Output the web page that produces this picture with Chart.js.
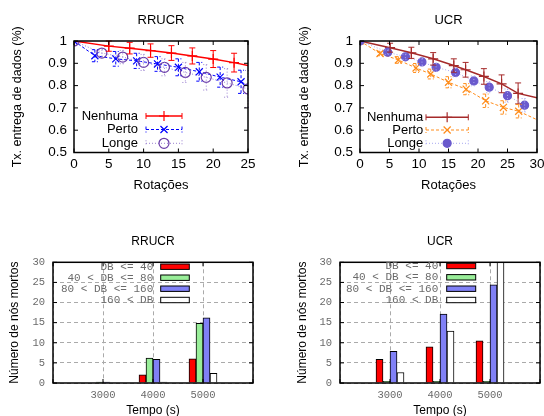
<!DOCTYPE html>
<html>
<head>
<meta charset="utf-8">
<script src="https://cdn.jsdelivr.net/npm/chart.js@4/dist/chart.umd.min.js"></script>
<style>
  html, body { margin: 0; padding: 0; background: #fff; }
  #page { position: relative; width: 544px; height: 416px; overflow: hidden; }
  #page canvas { position: absolute; }
</style>
</head>
<body>
<div id="page">
  <canvas id="rrLine" width="272" height="208" style="left:0;top:0"></canvas>
  <canvas id="ucrLine" width="290" height="208" style="left:272px;top:0"></canvas>
  <canvas id="rrBar" width="272" height="220" style="left:0;top:208px"></canvas>
  <canvas id="ucrBar" width="290" height="220" style="left:272px;top:208px"></canvas>
</div>
<script>
// ---- data: taxa de entrega x rotacoes ----
var rrNenhumaX   = [0, 5, 8, 11, 14, 17, 20, 23, 25];
var rrNenhumaY   = [1, 0.977, 0.968, 0.957, 0.946, 0.933, 0.919, 0.903, 0.89];
var rrNenhumaErr = [0, 0.023, 0.026, 0.03, 0.033, 0.036, 0.038, 0.042, null];
var rrPertoX     = [0, 3, 6, 9, 12, 15, 18, 21, 24, 25];
var rrPertoY     = [1, 0.934, 0.92, 0.911, 0.897, 0.882, 0.862, 0.838, 0.817, 0.80];
var rrPertoErr   = [0, 0.027, 0.033, 0.034, 0.033, 0.038, 0.042, 0.045, 0.052, null];
var rrLongeX     = [0, 4, 7, 10, 13, 16, 19, 22, 25];
var rrLongeY     = [1, 0.946, 0.928, 0.904, 0.882, 0.859, 0.837, 0.812, 0.785];
var rrLongeErr   = [0, 0.015, 0.03, 0.036, 0.038, 0.045, 0.057, 0.064, 0.083];

var ucrNenhumaX   = [0, 5.1, 8.7, 12.4, 15.9, 17.9, 21, 24, 26.8, 30];
var ucrNenhumaY   = [1, 0.97, 0.947, 0.92, 0.89, 0.871, 0.841, 0.808, 0.765, 0.745];
var ucrNenhumaErr = [0, 0.02, 0.025, 0.028, 0.03, 0.033, 0.035, 0.04, 0.047, null];
var ucrPertoX     = [0, 3.4, 6.5, 9.5, 12, 15, 18, 21.3, 24.3, 26.9, 30];
var ucrPertoY     = [1, 0.944, 0.915, 0.879, 0.852, 0.815, 0.784, 0.732, 0.702, 0.685, 0.647];
var ucrPertoErr   = [0, 0.01, 0.015, 0.02, 0.022, 0.025, 0.025, 0.03, 0.03, 0.03, null];
var ucrLongeX     = [0, 4.7, 7.7, 10.5, 12.9, 16.2, 19.3, 21.9, 25, 27.9];
var ucrLongeY     = [1, 0.95, 0.929, 0.906, 0.882, 0.859, 0.821, 0.793, 0.755, 0.712];
var ucrLongeErr   = [0, 0.01, 0.012, 0.015, 0.018, 0.02, 0.022, 0.025, 0.03, 0.03];

// ---- data: nos mortos x tempo ----
var tempos      = [3000, 4000, 5000];
var faixas      = ['DB <= 40', '40 < DB <= 80', '80 < DB <= 160', '160 < DB'];
var rrMortos    = [[0, 2, 6], [0.2, 6.2, 14.8], [0.2, 5.9, 16.2], [0, 0.2, 2.4]];
var ucrMortos   = [[5.9, 9, 10.5], [0.4, 0.4, 0.4], [7.9, 17.1, 24.4], [2.6, 12.9, 30]];

var SANS = 'Liberation Sans, Arial, sans-serif';
var MONO = 'Liberation Mono, Courier New, monospace';

function pts(xs, ys) {
  return xs.map(function (x, i) { return { x: x, y: ys[i] }; });
}

function serie(label, xs, ys, errs, st) {
  return {
    label: label,
    data: pts(xs, ys),
    errors: errs,
    errColor: st.errColor || st.line,
    borderColor: st.line,
    borderWidth: st.width || 1,
    borderDash: st.dash || [],
    pointStyle: st.point,
    pointRadius: function (c) { return errs[c.dataIndex] == null ? 0 : st.radius; },
    pointBorderColor: st.mark || st.line,
    pointBackgroundColor: st.fill || 'rgba(0,0,0,0)',
    pointBorderWidth: 1.2,
    tension: 0,
    fill: false,
    order: st.order
  };
}

// vertical error bars, placed through the y scale
var errorBarsPlugin = {
  id: 'errorBars',
  afterDatasetsDraw: function (chart) {
    var ctx = chart.ctx, ys = chart.scales.y;
    chart.data.datasets.forEach(function (ds, i) {
      if (!ds.errors) return;
      var meta = chart.getDatasetMeta(i);
      ctx.save();
      ctx.strokeStyle = ds.errColor;
      ctx.lineWidth = 1;
      ctx.setLineDash(ds.borderDash);
      meta.data.forEach(function (pt, j) {
        var e = ds.errors[j];
        if (!e) return;
        var v = ds.data[j].y;
        var top = ys.getPixelForValue(v + e), bot = ys.getPixelForValue(v - e);
        ctx.beginPath();
        ctx.moveTo(pt.x, top); ctx.lineTo(pt.x, bot);
        ctx.moveTo(pt.x - 3, top); ctx.lineTo(pt.x + 3, top);
        ctx.moveTo(pt.x - 3, bot); ctx.lineTo(pt.x + 3, bot);
        ctx.stroke();
      });
      ctx.restore();
    });
  }
};

// gnuplot like box with inward ticks on all four sides
var framePlugin = {
  id: 'frame',
  afterDatasetsDraw: function (chart) {
    var a = chart.chartArea, ctx = chart.ctx;
    var xs = chart.scales.x, ys = chart.scales.y;
    ctx.save();
    ctx.strokeStyle = '#000';
    ctx.lineWidth = 1;
    ctx.beginPath();
    xs.ticks.forEach(function (t) {
      var px = xs.getPixelForValue(t.value);
      ctx.moveTo(px, a.bottom); ctx.lineTo(px, a.bottom - 4);
      ctx.moveTo(px, a.top); ctx.lineTo(px, a.top + 4);
    });
    ys.ticks.forEach(function (t) {
      var py = ys.getPixelForValue(t.value);
      ctx.moveTo(a.left, py); ctx.lineTo(a.left + 4, py);
      ctx.moveTo(a.right, py); ctx.lineTo(a.right - 4, py);
    });
    ctx.stroke();
    ctx.lineWidth = 1.5;
    ctx.strokeRect(a.left, a.top, a.right - a.left, a.bottom - a.top);
    ctx.restore();
  }
};

// key for the line charts: text, line sample with end caps and marker
var lineKeyPlugin = {
  id: 'lineKey',
  afterDraw: function (chart, args, o) {
    if (!o.rows) return;
    var ctx = chart.ctx;
    chart.data.datasets.forEach(function (ds, i) {
      var y = o.rows[i];
      ctx.save();
      ctx.fillStyle = '#000';
      ctx.font = '13px ' + SANS;
      ctx.textAlign = 'right';
      ctx.textBaseline = 'middle';
      ctx.fillText(ds.label, o.textRight, y);
      ctx.strokeStyle = ds.borderColor;
      ctx.lineWidth = ds.borderWidth;
      ctx.setLineDash(ds.borderDash);
      ctx.beginPath();
      ctx.moveTo(o.x1, y); ctx.lineTo(o.x2, y);
      ctx.stroke();
      ctx.strokeStyle = ds.errColor;
      ctx.lineWidth = 1;
      ctx.beginPath();
      ctx.moveTo(o.x1, y - 3); ctx.lineTo(o.x1, y + 3);
      ctx.moveTo(o.x2, y - 3); ctx.lineTo(o.x2, y + 3);
      ctx.stroke();
      ctx.setLineDash([]);
      ctx.strokeStyle = ds.pointBorderColor;
      ctx.fillStyle = ds.pointBackgroundColor;
      ctx.lineWidth = 1.2;
      Chart.helpers.drawPoint(ctx, { pointStyle: ds.pointStyle, rotation: 0, radius: o.radius[i], borderWidth: 1.2 }, (o.x1 + o.x2) / 2, y);
      ctx.restore();
    });
  }
};

// key for the bar charts: mono text and boxed swatch
var barKeyPlugin = {
  id: 'barKey',
  afterDraw: function (chart, args, o) {
    if (!o.rows) return;
    var ctx = chart.ctx;
    chart.data.datasets.forEach(function (ds, i) {
      var y = o.rows[i];
      ctx.save();
      ctx.fillStyle = '#6a6a6a';
      ctx.font = '11px ' + MONO;
      ctx.textAlign = 'right';
      ctx.textBaseline = 'middle';
      ctx.fillText(ds.label, o.textRight, y);
      ctx.fillStyle = ds.backgroundColor;
      ctx.fillRect(o.x1, y - 2.7, o.x2 - o.x1, 5.4);
      ctx.strokeStyle = '#000';
      ctx.lineWidth = 1;
      ctx.strokeRect(o.x1, y - 2.7, o.x2 - o.x1, 5.4);
      ctx.restore();
    });
  }
};

function lineChart(id, title, xmax, datasets, dims, key) {
  return new Chart(document.getElementById(id), {
    type: 'line',
    data: { datasets: datasets },
    plugins: [errorBarsPlugin, framePlugin, lineKeyPlugin],
    options: {
      responsive: false,
      animation: false,
      layout: { padding: { left: 0, right: dims.right, top: 0, bottom: 0 } },
      plugins: {
        legend: { display: false },
        tooltip: { enabled: false },
        title: { display: true, text: title, fullSize: false, color: '#000',
                 font: { family: SANS, size: 13, weight: 'normal' }, padding: { top: 12.2, bottom: 13.2 } },
        lineKey: key
      },
      scales: {
        x: {
          type: 'linear', min: 0, max: xmax,
          ticks: { stepSize: 5, color: '#000', font: { family: SANS, size: 13.5 }, padding: 4, maxRotation: 0 },
          grid: { display: false, drawTicks: false },
          border: { display: false },
          title: { display: true, text: 'Rotações', color: '#000', font: { family: SANS, size: 13 }, padding: { top: 0, bottom: 15.2 } },
          afterFit: function (s) { s.height = 55.5; }
        },
        y: {
          min: 0.5, max: 1,
          ticks: { stepSize: 0.1, color: '#000', font: { family: SANS, size: 13.5 }, padding: 7,
                   callback: function (v) { return String(+v.toFixed(1)); } },
          grid: { display: false, drawTicks: false },
          border: { display: false },
          title: { display: true, text: 'Tx. entrega de dados (%)', color: '#000', font: { family: SANS, size: 12.5 }, padding: { top: dims.ytitle, bottom: 0 } },
          afterFit: function (s) { s.width = dims.left; }
        }
      }
    }
  });
}

var barColors = ['#ff0000', '#99ee99', '#8080f6', '#ffffff'];

function barChart(id, title, series, dims, key) {
  var datasets = series.map(function (vals, i) {
    return { label: faixas[i], data: vals, backgroundColor: barColors[i], borderColor: '#000',
             borderWidth: 1, barThickness: 7 };
  });
  return new Chart(document.getElementById(id), {
    type: 'bar',
    data: { labels: tempos, datasets: datasets },
    plugins: [framePlugin, barKeyPlugin],
    options: {
      responsive: false,
      animation: false,
      layout: { padding: { left: 0, right: dims.right, top: 0, bottom: 0 } },
      plugins: {
        legend: { display: false },
        tooltip: { enabled: false },
        title: { display: true, text: title, fullSize: false, color: '#000',
                 font: { family: SANS, size: 12, weight: 'normal' }, padding: { top: 26.5, bottom: 13.4 } },
        barKey: key
      },
      scales: {
        x: {
          type: 'linear', min: 2000, max: 6000, offset: false,
          ticks: { stepSize: 1000, color: '#6a6a6a', font: { family: MONO, size: 10.5 }, padding: 5.7, maxRotation: 0,
                   callback: function (v) { return (v === 2000 || v === 6000) ? '' : String(v); } },
          grid: { offset: false, drawTicks: false, color: '#aaaaaa', lineWidth: 1 },
          border: { display: false, dash: [4, 3] },
          title: { display: true, text: 'Tempo (s)', color: '#000', font: { family: SANS, size: 12 }, padding: { top: 0, bottom: 10.1 } },
          afterFit: function (s) { s.height = 45; }
        },
        y: {
          min: 0, max: 30,
          ticks: { stepSize: 5, color: '#6a6a6a', font: { family: MONO, size: 10.5 }, padding: 8 },
          grid: { drawTicks: false, color: '#aaaaaa', lineWidth: 1 },
          border: { display: false, dash: [4, 3] },
          title: { display: true, text: 'Número de nós mortos', color: '#000', font: { family: SANS, size: 12 }, padding: { top: dims.ytitle, bottom: 0 } },
          afterFit: function (s) { s.width = dims.left; }
        }
      }
    }
  });
}

lineChart('rrLine', 'RRUCR', 25, [
  serie('Nenhuma', rrNenhumaX, rrNenhumaY, rrNenhumaErr, { line: '#ff0000', width: 1.5, point: 'cross', radius: 5, order: 3 }),
  serie('Perto', rrPertoX, rrPertoY, rrPertoErr, { line: '#0000ff', dash: [3, 2], point: 'crossRot', radius: 5, order: 2 }),
  serie('Longe', rrLongeX, rrLongeY, rrLongeErr, { line: '#9a80d0', mark: '#6a3ca8', dash: [1, 2], point: 'circle', radius: 5, order: 1 })
], { left: 74, right: 24, ytitle: 10.5 },
   { textRight: 138, x1: 146, x2: 182, rows: [116, 129.5, 143.3], radius: [5, 5, 5] });

lineChart('ucrLine', 'UCR', 30, [
  serie('Nenhuma', ucrNenhumaX, ucrNenhumaY, ucrNenhumaErr, { line: '#a52a2a', width: 1.5, point: 'cross', radius: 5, order: 3 }),
  serie('Perto', ucrPertoX, ucrPertoY, ucrPertoErr, { line: '#ff8c1a', dash: [3, 2], point: 'crossRot', radius: 5, order: 2 }),
  serie('Longe', ucrLongeX, ucrLongeY, ucrLongeErr, { line: '#a8a8f0', mark: '#6a5acd', fill: '#6a5acd', dash: [1, 2], point: 'circle', radius: 4, order: 1 })
], { left: 88, right: 25, ytitle: 25.5 },
   { textRight: 151.3, x1: 154, x2: 196.3, rows: [117.3, 130, 143.3], radius: [5, 5, 4] });

barChart('rrBar', 'RRUCR', rrMortos, { left: 53, right: 19, ytitle: 7.1 },
  { textRight: 153.3, x1: 160.7, x2: 189.3, rows: [58.7, 69.7, 80.7, 92] });

barChart('ucrBar', 'UCR', ucrMortos, { left: 68, right: 22, ytitle: 23.8 },
  { textRight: 166.3, x1: 174.7, x2: 203.7, rows: [58, 69.3, 80.7, 92] });
</script>
</body>
</html>
